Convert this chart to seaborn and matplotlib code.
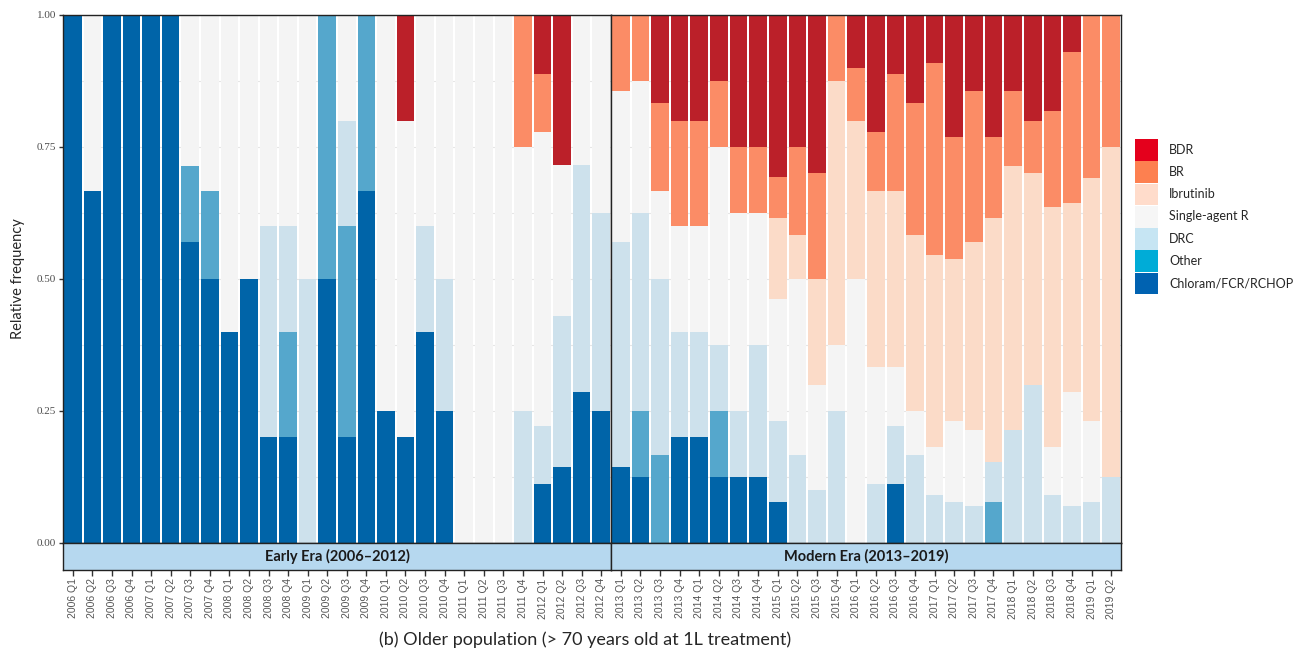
import matplotlib
matplotlib.use("Agg")
import matplotlib.pyplot as plt
from matplotlib.patches import Patch
import seaborn as sns
import pandas as pd


# stacking order, bottom to top
treatments = ["Chloram/FCR/RCHOP", "Other", "DRC", "Single-agent R", "Ibrutinib", "BR", "BDR"]

early_quarters = [
    "2006 Q1", "2006 Q2", "2006 Q3", "2006 Q4", "2007 Q1", "2007 Q2", "2007 Q3", "2007 Q4",
    "2008 Q1", "2008 Q2", "2008 Q3", "2008 Q4", "2009 Q1", "2009 Q2", "2009 Q3", "2009 Q4",
    "2010 Q1", "2010 Q2", "2010 Q3", "2010 Q4", "2011 Q1", "2011 Q2", "2011 Q3", "2011 Q4",
    "2012 Q1", "2012 Q2", "2012 Q3", "2012 Q4",
]

modern_quarters = [
    "2013 Q1", "2013 Q2", "2013 Q3", "2013 Q4", "2014 Q1", "2014 Q2", "2014 Q3", "2014 Q4",
    "2015 Q1", "2015 Q2", "2015 Q3", "2015 Q4", "2016 Q1", "2016 Q2", "2016 Q3", "2016 Q4",
    "2017 Q1", "2017 Q2", "2017 Q3", "2017 Q4", "2018 Q1", "2018 Q2", "2018 Q3", "2018 Q4",
    "2019 Q1", "2019 Q2",
]

# early era shares
early_chloram = [1, .667, 1, 1, 1, 1, .571, .5, .4, .5, .2, .2, 0, .5,
                 .2, .667, .25, .2, .4, .25, 0, 0, 0, 0, .111, .143, .286, .25]
early_other = [0, 0, 0, 0, 0, 0, .143, .167, 0, 0, 0, .2, 0, .5,
               .4, .333, 0, 0, 0, 0, 0, 0, 0, 0, 0, 0, 0, 0]
early_drc = [0, 0, 0, 0, 0, 0, 0, 0, 0, 0, .4, .2, .5, 0,
             .2, 0, 0, 0, .2, .25, 0, 0, 0, .25, .111, .286, .429, .375]
early_single = [0, .333, 0, 0, 0, 0, .286, .333, .6, .5, .4, .4, .5, 0,
                .2, 0, .75, .6, .4, .5, 1, 1, 1, .5, .556, .286, .285, .375]
early_ibrutinib = [0] * 28
early_br = [0, 0, 0, 0, 0, 0, 0, 0, 0, 0, 0, 0, 0, 0,
            0, 0, 0, 0, 0, 0, 0, 0, 0, .25, .111, 0, 0, 0]
early_bdr = [0, 0, 0, 0, 0, 0, 0, 0, 0, 0, 0, 0, 0, 0,
             0, 0, 0, .2, 0, 0, 0, 0, 0, 0, .111, .285, 0, 0]

# modern era shares
modern_chloram = [.143, .125, 0, .2, .2, .125, .125, .125, .077, 0, 0, 0, 0,
                  0, .111, 0, 0, 0, 0, 0, 0, 0, 0, 0, 0, 0]
modern_other = [0, .125, .167, 0, 0, .125, 0, 0, 0, 0, 0, 0, 0,
                0, 0, 0, 0, 0, 0, .077, 0, 0, 0, 0, 0, 0]
modern_drc = [.428, .375, .333, .2, .2, .125, .125, .25, .154, .167, .1, .25, 0,
              .111, .111, .167, .091, .077, .071, .077, .214, .3, .091, .071, .077, .125]
modern_single = [.286, .25, .167, .2, .2, .375, .375, .25, .231, .333, .2, .125, .5,
                 .222, .111, .083, .091, .154, .143, 0, 0, 0, .091, .215, .154, 0]
modern_ibrutinib = [0, 0, 0, 0, 0, 0, 0, 0, .154, .083, .2, .5, .3,
                    .334, .334, .333, .364, .307, .357, .461, .5, .4, .454, .357, .461, .625]
modern_br = [.143, .125, .167, .2, .2, .125, .125, .125, .077, .167, .2, .125, .1,
             .111, .222, .25, .364, .231, .286, .154, .143, .1, .182, .286, .308, .25]
modern_bdr = [0, 0, .166, .2, .2, .125, .25, .25, .307, .25, .3, 0, .1,
              .222, .111, .167, .09, .231, .143, .231, .143, .2, .182, .071, 0, 0]

bar_colors = {
    "Chloram/FCR/RCHOP": "#0064a8",
    "Other": "#55a7cc",
    "DRC": "#cde1ec",
    "Single-agent R": "#f4f4f4",
    "Ibrutinib": "#fbdbc8",
    "BR": "#fb8c66",
    "BDR": "#bb2029",
}

legend_colors = {
    "BDR": "#e4001c",
    "BR": "#fd8050",
    "Ibrutinib": "#ffdccb",
    "Single-agent R": "#f6f6f6",
    "DRC": "#c6e5f3",
    "Other": "#00acd7",
    "Chloram/FCR/RCHOP": "#0062b1",
}


sns.set_style("white")
plt.rcParams["font.family"] = ["Lato", "DejaVu Sans"]

W, H = 1300, 655


def draw_era(ax, strip, quarters, shares, title, show_y):

    df = pd.DataFrame(shares, index=quarters)
    cum = df[treatments].cumsum(axis=1)

    # tallest stack first, then overlay the lower ones
    for name in reversed(treatments):
        sns.barplot(
            x=quarters,
            y=cum[name].values,
            order=quarters,
            color=bar_colors[name],
            saturation=1,
            width=0.9,
            errorbar=None,
            linewidth=0,
            zorder=2,
            ax=ax
        )

    n = len(quarters)
    ax.set_xlim(-0.5, n - 0.5)
    ax.set_ylim(0, 1)
    ax.set_xlabel("")
    ax.set_ylabel("")
    ax.tick_params(axis="x", bottom=False, labelbottom=False)

    ax.set_axisbelow(True)
    ax.set_yticks([0, .25, .5, .75, 1])
    ax.set_yticks([.125, .375, .625, .875], minor=True)
    ax.yaxis.grid(True, which="both", color="#e6e6e6", linewidth=0.8)

    if show_y:
        ax.set_yticklabels(["0.00", "0.25", "0.50", "0.75", "1.00"],
                           family="Liberation Serif", fontsize=8, color="#4d4d4d")
        ax.tick_params(axis="y", which="major", left=True, length=3, width=1,
                       color="#333333", pad=2)
        ax.tick_params(axis="y", which="minor", left=False)
    else:
        ax.tick_params(axis="y", which="both", left=False, labelleft=False)

    for sp in ax.spines.values():
        sp.set_color("#222222")
        sp.set_linewidth(1)

    # facet strip with the quarter labels below it
    strip.set_facecolor("#b6d8ef")
    strip.set_xlim(-0.5, n - 0.5)
    strip.set_ylim(0, 1)
    strip.set_yticks([])
    strip.set_xticks(range(n))
    strip.set_xticklabels(quarters, rotation=90, fontsize=7.5, color="#555555",
                          family="Liberation Sans")
    strip.tick_params(axis="x", bottom=True, length=4, width=1, color="#333333", pad=2)
    for sp in strip.spines.values():
        sp.set_color("#222222")
        sp.set_linewidth(1)
    strip.text((n - 1) / 2, 0.5, title, ha="center", va="center",
               fontsize=10.5, fontweight="bold", color="#1a1a1a")


fig = plt.figure(
    figsize=(13, 6.55),
    dpi=100
)

ax1 = fig.add_axes([63 / W, (655 - 543) / H, (611 - 63) / W, (543 - 15) / H])
ax2 = fig.add_axes([611 / W, (655 - 543) / H, (1121 - 611) / W, (543 - 15) / H])
s1 = fig.add_axes([63 / W, (655 - 570) / H, (611 - 63) / W, 27 / H])
s2 = fig.add_axes([611 / W, (655 - 570) / H, (1121 - 611) / W, 27 / H])

draw_era(
    ax1, s1, early_quarters,
    {
        "Chloram/FCR/RCHOP": early_chloram, "Other": early_other, "DRC": early_drc,
        "Single-agent R": early_single, "Ibrutinib": early_ibrutinib,
        "BR": early_br, "BDR": early_bdr,
    },
    "Early Era (2006\u20132012)", True
)

draw_era(
    ax2, s2, modern_quarters,
    {
        "Chloram/FCR/RCHOP": modern_chloram, "Other": modern_other, "DRC": modern_drc,
        "Single-agent R": modern_single, "Ibrutinib": modern_ibrutinib,
        "BR": modern_br, "BDR": modern_bdr,
    },
    "Modern Era (2013\u20132019)", False
)

fig.text(
    18 / W, 1 - 279 / H,
    "Relative frequency",
    rotation=90, ha="center", va="center", fontsize=10.5
)

fig.text(
    585 / W, 1 - 640 / H,
    "(b) Older population (> 70 years old at 1L treatment)",
    ha="center", va="center", fontsize=13
)

handles = [Patch(facecolor=legend_colors[k], edgecolor="none") for k in legend_colors]
fig.legend(
    handles,
    list(legend_colors.keys()),
    loc="upper left",
    bbox_to_anchor=(1135 / W, 1 - 139 / H),
    frameon=False,
    fontsize=9,
    handlelength=1.8,
    handleheight=2.3,
    labelspacing=0.04,
    handletextpad=0.95,
    borderaxespad=0,
    borderpad=0
)

plt.savefig("out.png", dpi=100)
